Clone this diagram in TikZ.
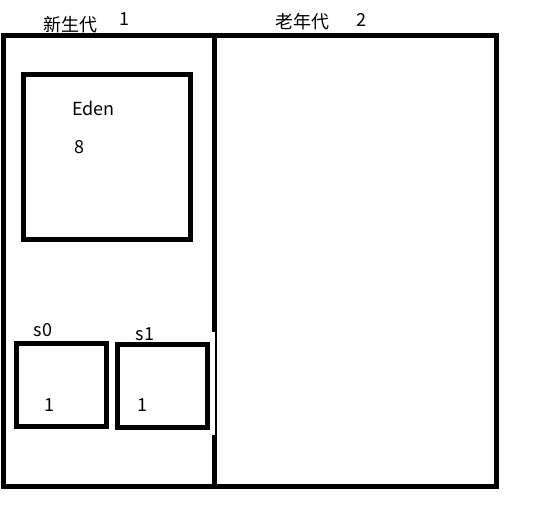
\documentclass[tikz,border=0pt]{standalone}
\usepackage{fontspec}
\setmainfont{Noto Sans CJK SC}
\begin{document}
\begin{tikzpicture}[x=1pt,y=-1pt,
  thick box/.style={draw=black,line width=5pt,miter limit=10},
  lbl/.style={inner sep=0pt,font=\fontsize{18}{20}\selectfont},
  num/.style={inner sep=0pt,font=\fontsize{18}{20}\selectfont}]
\useasboundingbox[fill=white] (0,0) rectangle (540,507);
% outer frame
\draw[thick box] (3.5,35.5) rectangle (496.5,486);
% divider with gap
\coordinate (dtop) at (214.5,35.5);
\coordinate (dgap1) at (214.5,332);
\coordinate (dgap2) at (214.5,435);
\coordinate (dbot) at (214.5,486);
\draw[line width=5pt] (dtop) -- (dgap1);
\draw[line width=5pt] (dgap2) -- (dbot);
\draw[line width=2pt] (215.7,332) -- (215.7,435);
% boxes
\draw[thick box] (23.5,74.5) rectangle (190,239.5);
\draw[thick box] (16.5,343.5) rectangle (106.5,426.5);
\draw[thick box] (117.5,344.5) rectangle (207.5,427.5);
% labels
\node[lbl] (young) at (70,25) {新生代};
\node[num] (n1) at (124,19.5) {1};
\node[lbl] (old) at (302,22) {老年代};
\node[num] (n2) at (361,19.5) {2};
\node[num] (eden) at (93.5,108.5) {Eden};
\node[num] (n8) at (79.5,147) {8};
\node[num] (s0) at (43,330) {s0};
\node[num] (s1) at (145,334) {s1};
\node[num] (s0n) at (49,405) {1};
\node[num] (s1n) at (142,405) {1};
\end{tikzpicture}
\end{document}
